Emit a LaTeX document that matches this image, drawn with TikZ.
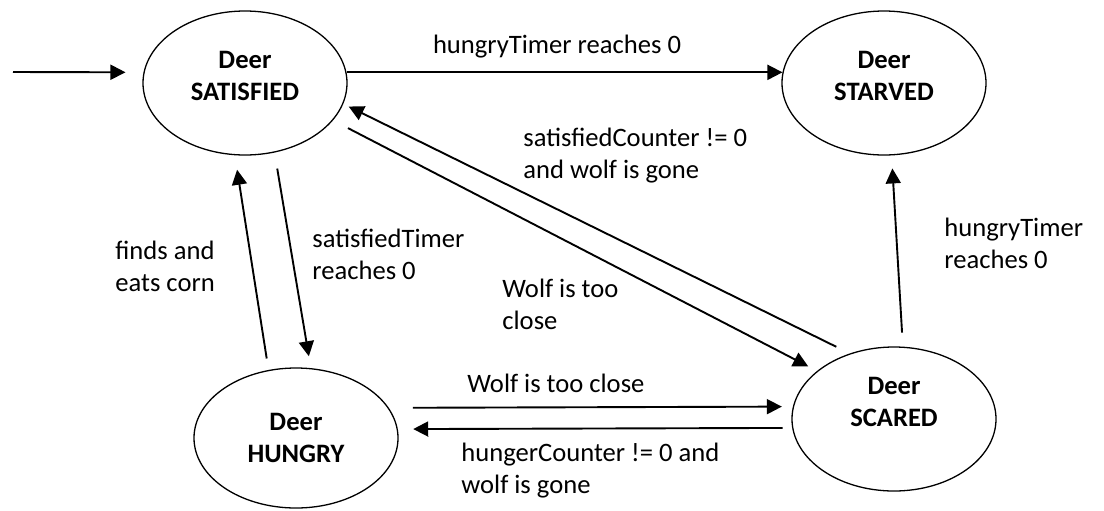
\documentclass[tikz,border=0pt]{standalone}
\usepackage{fontspec}
\setmainfont{Carlito}
\usepackage{tikz}
\usetikzlibrary{arrows.meta,shapes.geometric}

\begin{document}
\begin{tikzpicture}[
  x=0.5pt,y=-0.5pt,
  font=\fontsize{13.3}{16}\selectfont,
  state/.style={draw,ellipse,line width=0.65pt,inner sep=0pt,align=center,
                minimum width=102pt,minimum height=72pt,font=\fontsize{13.3}{16}\selectfont\bfseries},
  lbl/.style={inner sep=0pt,align=left,anchor=west},
  arr/.style={-{Triangle[length=7.5pt,width=7.5pt]},line width=0.95pt}
]
\useasboundingbox (0,0) rectangle (1104,510);
% states
\node[state,text depth=7pt] (sat) at (245,83) {Deer\\SATISFIED};
\node[state,text depth=7pt] (starv) at (884,83) {Deer\\STARVED};
\node[state,minimum height=70pt] (hung) at (296,438) {Deer\\HUNGRY};
\node[state,text depth=17pt] (scar) at (894,419) {Deer\\SCARED};
\coordinate (init) at (13,72);
% transitions
\draw[arr,shorten >=9pt] (init) -- (sat.174);
\draw[arr] (sat.6) -- (starv.174);
\draw[arr,shorten <=7pt,shorten >=6.5pt] (scar.83) -- (starv.-84);
\draw[arr,shorten <=7.5pt,shorten >=3pt] (scar.124) -- (sat.-12);
\draw[arr,shorten <=8.4pt,shorten >=5pt] (sat.-23) -- (scar.148);
\draw[arr,shorten <=5.8pt,shorten >=7.3pt] (hung.112) -- (sat.-98);
\draw[arr,shorten <=8.1pt,shorten >=6pt] (sat.-67) -- (hung.78);
\draw[arr,shorten <=12pt,shorten >=5.5pt] (hung.18.6) -- (scar.173.2);
\draw[arr,shorten <=4.75pt,shorten >=7.7pt] (scar.185.6) -- (hung.5.1);
% labels
\node[inner sep=0pt] (lstarve) at (557,47) {hungryTimer reaches 0};
\node[lbl] (lcalm) at (523,156) {satisfiedCounter != 0\\and wolf is gone};
\node[lbl] (lflee) at (502,304) {Wolf is too\\close};
\node[lbl] (lstarve2) at (944,243) {hungryTimer\\reaches 0};
\node[lbl] (leat) at (115,266) {finds and\\eats corn};
\node[lbl] (lhunger) at (312,254) {satisfiedTimer\\reaches 0};
\node[lbl] (lflee2) at (467,383) {Wolf is too close};
\node[lbl] (lcalm2) at (461,471) {hungerCounter != 0 and\\wolf is gone};
\end{tikzpicture}
\end{document}
